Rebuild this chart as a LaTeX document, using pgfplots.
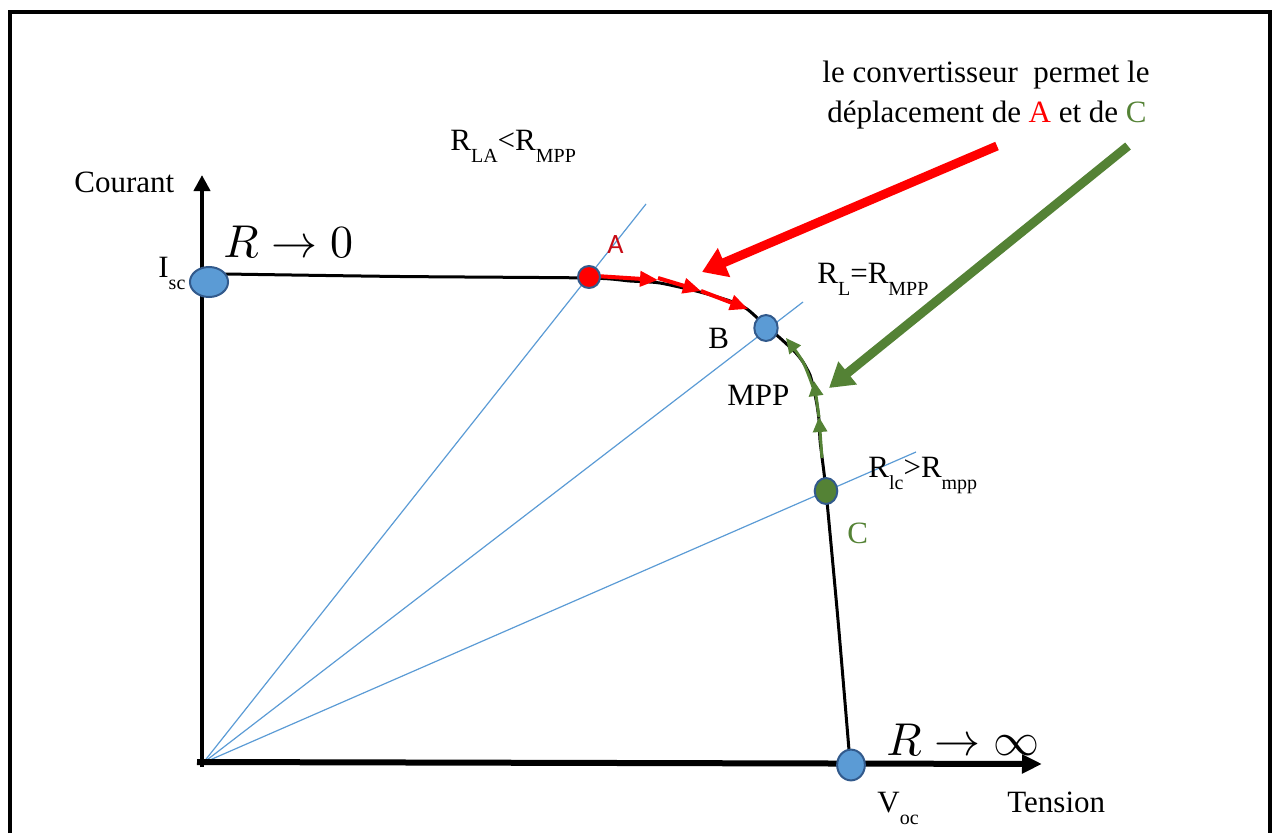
\documentclass[border=0pt]{standalone}
\usepackage{pgfplots}
\pgfplotsset{compat=1.18}
\usepackage{graphicx}
\usepackage{fontspec}
\setmainfont{Liberation Serif}
\newfontfamily\calibri{Carlito}
\usetikzlibrary{arrows.meta}
\definecolor{ptblue}{RGB}{91,155,213}
\definecolor{ptedge}{RGB}{50,90,140}
\definecolor{ptgreen}{RGB}{84,130,53}
\definecolor{ptred}{RGB}{255,0,0}
\definecolor{ptdred}{RGB}{200,10,20}
\newcommand\tf{\fontsize{15.5}{18}\selectfont}
\newcommand\sbs[1]{\raisebox{-6pt}{\fontsize{10}{10}\selectfont #1}}
\begin{document}
\begin{tikzpicture}
\begin{axis}[width=640.5pt,height=416.5pt,scale only axis,
  xmin=0,xmax=1281,ymin=0,ymax=833,y dir=reverse,hide axis,clip=false]
% bounding box
\addplot[draw=none] coordinates {(0,0) (1281,833)};
% frame
\addplot[black,line width=2pt,line join=miter] coordinates {(10,833) (10,12) (1270,12) (1270,833)};
% load lines
\addplot[ptblue,line width=0.6pt] coordinates {(203,763) (646,204)};
\addplot[ptblue,line width=0.6pt] coordinates {(203,763) (803,302)};
\addplot[ptblue,line width=0.6pt] coordinates {(203,763) (916,452)};
% axes
\addplot[black,line width=2pt,-{Triangle[length=8pt,width=8pt]}] coordinates {(202,767) (202,175)};
\addplot[black,line width=3pt,-{Triangle[length=10pt,width=9pt]}] coordinates {(197,762) (1042,764)};
% I-V curve
\addplot[black,line width=1.5pt,smooth,tension=0.4] coordinates {
(225,274) (400,276.5) (589,278) (630,281) (660,283) (700,292) (730,301) (747,309)
(766,326) (780,338) (795,352) (803,362) (810,375) (814,390) (817,405) (819,420)
(820,440) (822,457) (826,491) (838,620) (850,762)};
% red small arrows
\addplot[ptred,line width=2pt,-{Triangle[length=9pt,width=7.5pt]}] coordinates {(596,276) (658,280)};
\addplot[ptred,line width=2pt,-{Triangle[length=9pt,width=7.5pt]}] coordinates {(658,278) (701,291)};
\addplot[ptred,line width=2pt,-{Triangle[length=9pt,width=7.5pt]}] coordinates {(701,291) (748,309)};
% green small arrows
\addplot[ptgreen,line width=1.5pt,-{Triangle[length=7.5pt,width=7pt]}] coordinates {(822,458) (819,417)};
\addplot[ptgreen,line width=1.5pt,-{Triangle[length=7.5pt,width=7pt]}] coordinates {(819,417) (814,381)};
\addplot[ptgreen,line width=1.5pt,smooth,-{Triangle[length=7.5pt,width=7pt]}] coordinates {(813,387) (803,362) (786,338)};
% big arrows
\addplot[ptred,line width=4.5pt,-{Triangle[length=12pt,width=15pt]}] coordinates {(997,146) (702,272)};
\addplot[ptgreen,line width=4.5pt,-{Triangle[length=12pt,width=14pt]}] coordinates {(1128,146) (829,388)};
% points
\addplot[only marks,mark=*,mark size=7.5pt,mark options={fill=ptblue,draw=ptedge,line width=1pt,xscale=1.27}] coordinates {(209,282)};
\addplot[only marks,mark=*,mark size=7.7pt,mark options={fill=ptblue,draw=ptedge,line width=1pt,xscale=0.9}] coordinates {(851,765)};
\addplot[only marks,mark=*,mark size=5.5pt,mark options={fill=ptred,draw=ptedge,line width=1pt}] coordinates {(589,277)};
\addplot[only marks,mark=*,mark size=6.5pt,mark options={fill=ptblue,draw=ptedge,line width=1pt,xscale=0.9}] coordinates {(766,328)};
\addplot[only marks,mark=*,mark size=6.5pt,mark options={fill=ptgreen,draw=ptedge,line width=1pt,xscale=0.87}] coordinates {(826,491)};
% labels
\node[anchor=base west,inner sep=0pt] at (74,192) {\tf Courant};
\node[anchor=base west,inner sep=0pt] at (1007,812) {\tf Tension};
\node[anchor=base west,inner sep=0pt] at (877,812) {\tf V\sbs{oc}};
\node[anchor=base west,inner sep=0pt] at (158,277) {\tf I\sbs{sc}};
\node[anchor=base west,inner sep=0pt] at (727,405) {\tf MPP};
\node[anchor=base west,inner sep=0pt] at (708,348) {\tf B};
\node[anchor=base west,inner sep=0pt,text=ptdred] at (607,253) {\calibri\fontsize{14}{16}\selectfont A};
\node[anchor=base west,inner sep=0pt,text=ptgreen] at (847,543) {\tf C};
\node[anchor=base west,inner sep=0pt] at (450,150) {\tf R\sbs{LA}<R\sbs{MPP}};
\node[anchor=base west,inner sep=0pt] at (817,283) {\tf R\sbs{L}=R\sbs{MPP}};
\node[anchor=base west,inner sep=0pt] at (868,477) {\tf R\sbs{lc}>R\sbs{mpp}};
\node[anchor=base,inner sep=0pt] at (986,83) {\tf le convertisseur\ \ permet le};
\node[anchor=base,inner sep=0pt] at (987,122) {\tf déplacement de \textcolor{ptred}{A} et de \textcolor{ptgreen}{C}};
\node[anchor=base west,inner sep=0pt] at (223,257) {\scalebox{2.3}{$R\rightarrow 0$}};
\node[anchor=base west,inner sep=0pt] at (886,755) {\scalebox{2.3}{$R\rightarrow \infty$}};
\end{axis}
\end{tikzpicture}
\end{document}
